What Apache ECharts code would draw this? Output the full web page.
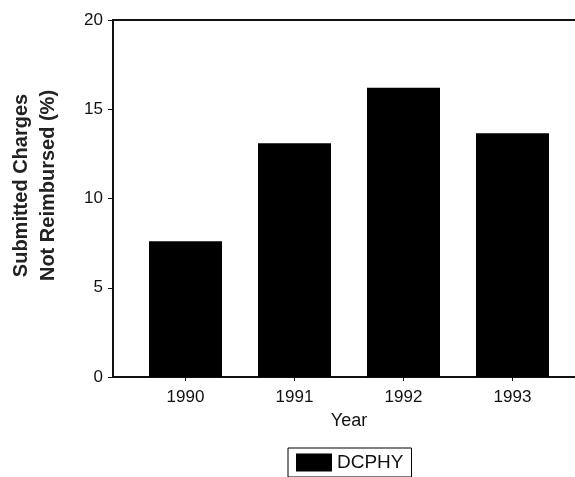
<!DOCTYPE html>
<html>
<head>
<meta charset="utf-8">
<script src="https://cdn.jsdelivr.net/npm/echarts@6/dist/echarts.min.js"></script>
<style>
  html, body { margin: 0; padding: 0; background: #fff; }
  #chart { width: 575px; height: 477px; }
</style>
</head>
<body>
<div id="chart"></div>
<script>
var years = ['1990', '1991', '1992', '1993']
var dcphy = [7.6, 13.1, 16.2, 13.65]
var yTicks = [0, 5, 10, 15, 20]

var chart = echarts.init(document.getElementById('chart'))
var font = 'Liberation Sans, Arial, sans-serif'
var option = {
  animation: false,
  grid: [
    // frame grid: left axis, top line, bottom line
    { left: 112, right: 0, top: 20, height: 357 },
    // bars grid
    { left: 131, width: 436, top: 20, height: 357 }
  ],
  legend: {
    data: ['DCPHY'],
    top: 448,
    left: 288,
    padding: [5, 8],
    itemWidth: 36,
    itemHeight: 18,
    itemGap: 6,
    borderColor: '#000',
    borderWidth: 1,
    borderRadius: 0,
    icon: 'rect',
    textStyle: { fontFamily: font, fontSize: 19, color: '#111' }
  },
  xAxis: [
    {
      gridIndex: 0,
      type: 'value',
      min: 0,
      max: 1,
      axisLine: { show: true, onZero: false, lineStyle: { color: '#111', width: 2 } },
      axisTick: { show: false },
      axisLabel: { show: false },
      splitLine: { show: false }
    },
    {
      gridIndex: 0,
      type: 'value',
      position: 'top',
      min: 0,
      max: 1,
      axisLine: { show: true, onZero: false, lineStyle: { color: '#111', width: 2 } },
      axisTick: { show: false },
      axisLabel: { show: false },
      splitLine: { show: false }
    },
    {
      gridIndex: 1,
      type: 'category',
      data: years,
      name: 'Year',
      nameLocation: 'middle',
      nameGap: 35,
      nameTextStyle: { fontFamily: font, fontSize: 18, color: '#111' },
      axisLine: { show: false },
      axisTick: { show: true, alignWithLabel: true, length: 4, lineStyle: { color: '#111' } },
      axisLabel: { fontFamily: font, fontSize: 17, color: '#111', margin: 12 }
    }
  ],
  yAxis: [
    {
      gridIndex: 0,
      type: 'value',
      min: 0,
      max: 20,
      interval: 5,
      name: 'Submitted Charges\nNot Reimbursed (%)',
      nameLocation: 'middle',
      nameGap: 51,
      nameRotate: 90,
      nameTextStyle: {
        fontFamily: font, fontSize: 20, fontWeight: 'bold', color: '#222',
        lineHeight: 27, padding: [0, 0, 0, 26]
      },
      axisLine: { show: true, lineStyle: { color: '#111', width: 2 } },
      axisTick: { show: true, length: 5, lineStyle: { color: '#111' } },
      axisLabel: {
        fontFamily: font, fontSize: 17, color: '#111', margin: 10,
        formatter: function (v) { return yTicks.indexOf(v) >= 0 ? String(v) : '' }
      },
      splitLine: { show: false }
    },
    {
      gridIndex: 1,
      type: 'value',
      min: 0,
      max: 20,
      show: false
    }
  ],
  series: [
    {
      name: 'DCPHY',
      type: 'bar',
      xAxisIndex: 2,
      yAxisIndex: 1,
      data: dcphy,
      barWidth: 73,
      itemStyle: { color: '#000' }
    }
  ]
}
chart.setOption(option)
</script>
</body>
</html>
